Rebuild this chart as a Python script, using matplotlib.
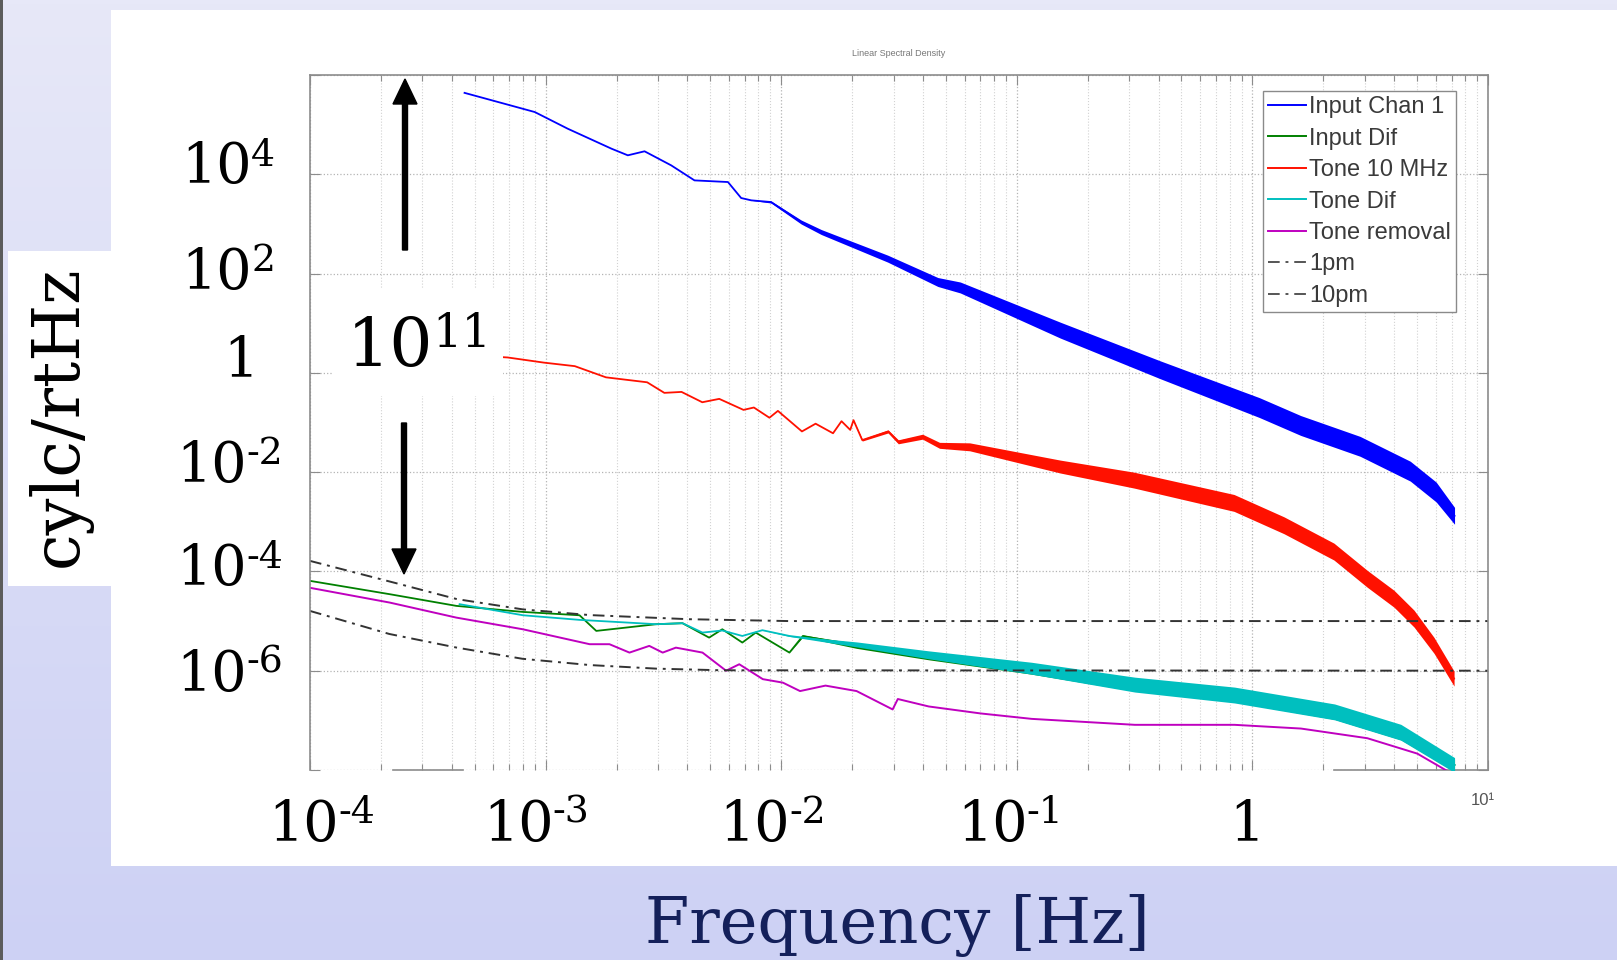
import numpy as np
import matplotlib
matplotlib.use("Agg")
import matplotlib.pyplot as plt
from matplotlib.patches import Rectangle, FancyArrow
from matplotlib.lines import Line2D
from matplotlib.text import Annotation
from matplotlib.colors import LinearSegmentedColormap
from matplotlib.ticker import LogLocator, FixedLocator, NullLocator
from matplotlib.transforms import offset_copy

# spectra, stored as log10(frequency [Hz]) / log10(density) / half band width (decades)
blue_logf = [-3.344, -3.174, -3.046, -2.906, -2.72, -2.651, -2.58, -2.467, -2.368, -2.226,
             -2.17, -2.127, -2.043, -1.915, -1.83, -1.689, -1.548, -1.335, -1.24, -0.815,
             -0.39, 0.03, 0.205, 0.457, 0.67, 0.78, 0.858]
blue_logv = [5.64, 5.42, 5.254, 4.918, 4.515, 4.382, 4.463, 4.18, 3.877, 3.844,
             3.522, 3.475, 3.441, 3.038, 2.837, 2.569, 2.301, 1.83, 1.72, 0.86,
             0.06, -0.70, -1.06, -1.48, -1.98, -2.4, -2.88]
blue_spread = [0, 0, 0, 0, 0, 0, 0, 0, 0, 0,
               0, 0, 0.02, 0.04, 0.05, 0.06, 0.07, 0.09, 0.11, 0.16,
               0.18, 0.2, 0.2, 0.2, 0.2, 0.2, 0.17]

red_logf = [-3.344, -3.161, -3.007, -2.876, -2.744, -2.569, -2.496, -2.423, -2.335, -2.263,
            -2.16, -2.116, -2.05, -2.014, -1.912, -1.854, -1.78, -1.744, -1.707, -1.693,
            -1.656, -1.546, -1.503, -1.4, -1.328, -1.2, -0.815, -0.503, -0.078, 0.134,
            0.346, 0.488, 0.601, 0.686, 0.771, 0.856]
red_logv = [0.36, 0.31, 0.206, 0.135, -0.09, -0.19, -0.403, -0.384, -0.592, -0.524,
            -0.746, -0.698, -0.904, -0.766, -1.18, -1.024, -1.217, -0.974, -1.149, -0.953,
            -1.354, -1.18, -1.389, -1.286, -1.46, -1.49, -1.888, -2.16, -2.62, -3.07,
            -3.6, -4.15, -4.55, -4.95, -5.49, -6.16]
red_spread = [0, 0, 0, 0, 0, 0, 0, 0, 0, 0,
              0, 0, 0, 0, 0, 0, 0, 0, 0, 0,
              0.02, 0.03, 0.04, 0.05, 0.06, 0.08, 0.13, 0.16, 0.17, 0.17,
              0.17, 0.17, 0.17, 0.17, 0.16, 0.15]

green_logf = [-4.0, -3.66, -3.379, -3.096, -2.856, -2.785, -2.53, -2.419, -2.306, -2.25,
              -2.165, -2.108, -1.965, -1.908, -1.68, -1.374, -0.937, -0.499, -0.076, 0.349,
              0.63, 0.858]
green_logv = [-4.19, -4.46, -4.694, -4.816, -4.883, -5.198, -5.063, -5.043, -5.333, -5.165,
              -5.433, -5.232, -5.635, -5.3, -5.5, -5.7, -5.97, -6.29, -6.5, -6.84,
              -7.25, -7.9]
green_spread = [0, 0, 0, 0, 0, 0, 0, 0, 0, 0,
                0, 0, 0, 0.02, 0.05, 0.08, 0.1, 0.12, 0.13, 0.14,
                0.14, 0.12]

cyan_logf = [-3.365, -3.096, -2.856, -2.53, -2.419, -2.334, -2.25, -2.165, -2.08, -1.965,
             -1.68, -1.374, -0.937, -0.499, -0.076, 0.349, 0.63, 0.858]
cyan_logv = [-4.66, -4.883, -4.976, -5.063, -5.043, -5.232, -5.19, -5.30, -5.184, -5.30,
             -5.47, -5.68, -5.95, -6.28, -6.49, -6.83, -7.24, -7.90]
cyan_spread = [0, 0, 0, 0, 0, 0, 0, 0, 0, 0.01,
               0.05, 0.08, 0.12, 0.15, 0.16, 0.16, 0.16, 0.15]

mag_logf = [-4.0, -3.662, -3.379, -3.097, -2.813, -2.729, -2.644, -2.56, -2.503, -2.447,
            -2.334, -2.234, -2.178, -2.078, -1.993, -1.92, -1.812, -1.68, -1.527, -1.505,
            -1.374, -1.155, -0.937, -0.499, -0.076, 0.206, 0.488, 0.70, 0.827, 0.858]
mag_logv = [-4.33, -4.627, -4.93, -5.165, -5.466, -5.466, -5.635, -5.50, -5.635, -5.535,
            -5.635, -6.00, -5.87, -6.17, -6.24, -6.41, -6.30, -6.41, -6.78, -6.57,
            -6.72, -6.86, -6.97, -7.09, -7.09, -7.165, -7.36, -7.67, -8.02, -8.2]

# reference levels
pm1_f = [1e-4, 2.4e-4, 4.2e-4, 8e-4, 1.54e-3, 4.07e-3, 1.08e-2, 10]
pm1_v = [1.63e-4, 5.56e-5, 2.77e-5, 1.72e-5, 1.32e-5, 1.09e-5, 1.0e-5, 1.0e-5]
pm10_f = [1e-4, 2.17e-4, 4.18e-4, 7.97e-4, 1.54e-3, 2.96e-3, 5.6e-3, 10]
pm10_v = [1.6e-5, 5.5e-6, 2.93e-6, 1.74e-6, 1.3e-6, 1.1e-6, 1.02e-6, 1.0e-6]

legend_labels = ["Input Chan 1", "Input Dif", "Tone 10 MHz", "Tone Dif", "Tone removal", "1pm", "10pm"]

# hand-placed slide labels: value, mantissa, exponent
ytick_vals = [1e4, 1e2, 1, 1e-2, 1e-4, 1e-6]
ytick_base = ["10", "10", "1", "10", "10", "10"]
ytick_exp = ["4", "2", "", "-2", "-4", "-6"]
ytick_right = [252, 252, 258, 247, 247, 247]   # px, right edge of mantissa
ytick_drop = [9, 15, 3, 10, 14, 20]             # px, baseline below grid line
xtick_vals = [1e-4, 1e-3, 1e-2, 1e-1, 1]
xtick_base = ["10", "10", "10", "10", "1"]
xtick_exp = ["-4", "-3", "-2", "-1", ""]
xtick_shift = [29, 8, 9, 11, 12]                # px, right edge of mantissa from tick

W, H = 1617, 960
SERIF = "DejaVu Serif"
SANS = "Liberation Sans"


def fx(px):
    return px / W


def fy(py):
    return 1 - py / H


fig = plt.figure(figsize=(W / 100, H / 100), dpi=100)

# slide background
bg = fig.add_axes([0, 0, 1, 1], zorder=-10)
grad = np.linspace(0, 1, 256)[:, None]
bg.imshow(grad, aspect="auto", extent=[0, 1, 0, 1],
          cmap=LinearSegmentedColormap.from_list("slide", ["#e7e8f8", "#cdd1f4"]))
bg.axis("off")

fig.add_artist(Rectangle((0, 0), fx(2.5), 1, transform=fig.transFigure,
                         facecolor="#5c5c5c", edgecolor="none", zorder=-5))
fig.add_artist(Rectangle((fx(111), fy(866)), fx(1617) - fx(111), fy(10) - fy(866),
                         transform=fig.transFigure, facecolor="white", edgecolor="none", zorder=-5))
fig.add_artist(Rectangle((fx(8), fy(586)), fx(111) - fx(8), fy(251) - fy(586),
                         transform=fig.transFigure, facecolor="white", edgecolor="none", zorder=-5))
fig.text(fx(59), fy(416), "cylc/rtHz", rotation=90, ha="center", va="center",
         fontsize=47, family=SERIF, color="black")

ax = fig.add_axes([fx(310), fy(770), fx(1488) - fx(310), fy(75) - fy(770)])
ax.set_xscale("log")
ax.set_yscale("log")
ax.set_xlim(1e-4, 10)
ax.set_ylim(1e-8, 1e6)
ax.xaxis.set_major_locator(LogLocator(base=10, numticks=10))
ax.xaxis.set_minor_locator(LogLocator(base=10, subs=np.arange(2, 10), numticks=20))
ax.yaxis.set_major_locator(FixedLocator(10.0 ** np.arange(-8, 7, 2)))
ax.yaxis.set_minor_locator(NullLocator())
ax.tick_params(which="both", direction="in", top=True, right=True,
               labelbottom=False, labelleft=False, color="#8c8c8c", width=0.8)
ax.tick_params(which="major", length=7)
ax.tick_params(which="minor", length=4)
ax.grid(which="major", ls=":", color="#b4b4b4", lw=0.9)
ax.grid(which="minor", axis="x", ls=":", color="#d2d2d2", lw=0.8)
for s in ax.spines.values():
    s.set_color("#8c8c8c")
    s.set_linewidth(1.2)
ax.spines["bottom"].set_visible(False)
# only bits of the bottom axis line show between the label boxes
for seg in ([2.25e-4, 4.46e-4], [2.22, 10]):
    ax.plot(seg, [0, 0], transform=ax.get_xaxis_transform(), clip_on=False,
            color="#8c8c8c", lw=1.2)

ax.set_title("Linear Spectral Density", fontsize=6.5, color="#777777", pad=14, family=SANS)


def spectrum(logf, logv, spread, color, lw, z):
    f = 10.0 ** np.array(logf)
    v = 10.0 ** np.array(logv)
    s = 10.0 ** np.array(spread)
    ax.fill_between(f, v / s, v * s, color=color, lw=0, zorder=z)
    ax.plot(f, v, color=color, lw=lw, zorder=z)


colors = ["#0000ff", "#008000", "#ff1100", "#00bfbf", "#bf00bf"]
dash = (0, (6, 3, 1.5, 3))

spectrum(blue_logf, blue_logv, blue_spread, colors[0], 1.3, 2.0)
spectrum(green_logf, green_logv, green_spread, colors[1], 1.3, 2.1)
spectrum(red_logf, red_logv, red_spread, colors[2], 1.3, 2.2)
spectrum(cyan_logf, cyan_logv, cyan_spread, colors[3], 1.3, 2.3)
ax.plot(10.0 ** np.array(mag_logf), 10.0 ** np.array(mag_logv), color=colors[4], lw=1.4, zorder=2.4)
ax.plot(pm1_f, pm1_v, color="#333333", lw=1.4, ls=dash, zorder=2.5)
ax.plot(pm10_f, pm10_v, color="#333333", lw=1.4, ls=dash, zorder=2.5)

handles = [Line2D([], [], color=c, lw=1.4) for c in colors]
handles += [Line2D([], [], color="#555555", lw=1.4, ls=dash) for _ in range(2)]
leg = ax.legend(handles, legend_labels, loc="upper left",
                bbox_to_anchor=(fx(1263), fy(91)), bbox_transform=fig.transFigure,
                borderaxespad=0, fancybox=False, framealpha=1, edgecolor="#8a8a8a",
                prop={"family": SANS, "size": 17}, handlelength=1.6,
                handletextpad=0.12, labelspacing=0.40, borderpad=0.22)
leg.get_frame().set_linewidth(1.0)
for t in leg.get_texts():
    t.set_color("#3a3a3a")


def power_label(x, y, base, exp, transform, size, add=None):
    """Mantissa right-aligned at (x, y) baseline, exponent tucked at its top right."""
    t = plt.Text(x, y, base, transform=transform, ha="right", va="baseline",
                 fontsize=size, family=SERIF, color="black", clip_on=False, zorder=6)
    (add or ax._add_text)(t)
    if exp:
        a = Annotation(exp, xy=(1, 1), xycoords=t, xytext=(-1, 3), textcoords="offset pixels",
                       ha="left", va="top", fontsize=size * 0.68, family=SERIF,
                       color="black", zorder=6, annotation_clip=False)
        (add or ax._add_text)(a)


# big slide labels for the axes
for v, b, e, r, d in zip(ytick_vals, ytick_base, ytick_exp, ytick_right, ytick_drop):
    tr = offset_copy(ax.get_yaxis_transform(), fig=fig, x=r - 310, y=-d, units="dots")
    power_label(0, v, b, e, tr, 40)
for v, b, e, dx in zip(xtick_vals, xtick_base, xtick_exp, xtick_shift):
    tr = offset_copy(ax.get_xaxis_transform(), fig=fig, x=dx, units="dots")
    power_label(v, (770 - 840.5) / 695, b, e, tr, 40)
tr = offset_copy(ax.get_xaxis_transform(), fig=fig, x=-5, units="dots")
ax.text(10, (770 - 805) / 695, "10\u00b9", transform=tr, ha="center", va="baseline",
        fontsize=12, family=SANS, color="#555555", clip_on=False)

# dynamic range marker
fig.add_artist(Rectangle((fx(332), fy(396)), fx(503) - fx(332), fy(289) - fy(396),
                         transform=fig.transFigure, facecolor="white", edgecolor="none", zorder=5))
power_label(fx(433), fy(366), "10", "11", fig.transFigure, 49, add=fig.add_artist)
fig.add_artist(FancyArrow(fx(405), fy(250), 0, fy(79) - fy(250), width=5 / W,
                          head_width=24 / W, head_length=25 / H, length_includes_head=True,
                          transform=fig.transFigure, color="black", zorder=6))
fig.add_artist(FancyArrow(fx(404), fy(423), 0, fy(574) - fy(423), width=5 / W,
                          head_width=24 / W, head_length=25 / H, length_includes_head=True,
                          transform=fig.transFigure, color="black", zorder=6))

fig.text(fx(897), fy(943), "Frequency [Hz]", ha="center", va="baseline",
         fontsize=46, family=SERIF, color="#14205a")

fig.savefig("out.png", dpi=100)
